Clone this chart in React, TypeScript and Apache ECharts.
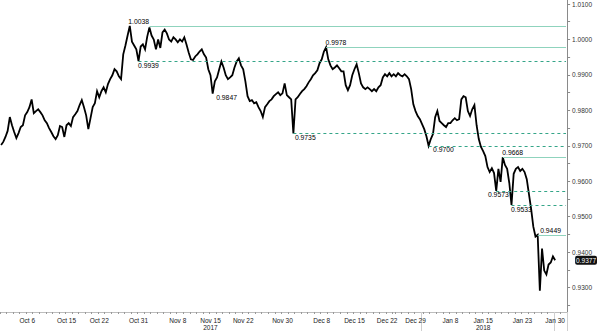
import React, { useEffect, useRef } from "react";
import * as echarts from "echarts";

// Trading days shown on the axis (weekdays, Oct 2017 - Jan 2018)
const octDays = [2, 3, 4, 5, 6, 9, 10, 11, 12, 13, 16, 17, 18, 19, 20, 23, 24, 25, 26, 27, 30, 31];
const novDays = [1, 2, 3, 6, 7, 8, 9, 10, 13, 14, 15, 16, 17, 20, 21, 22, 23, 24, 27, 28, 29, 30];
const decDays = [1, 4, 5, 6, 7, 8, 11, 12, 13, 14, 15, 18, 19, 20, 21, 22, 25, 26, 27, 28, 29];
const janDays = [1, 2, 3, 4, 5, 8, 9, 10, 11, 12, 15, 16, 17, 18, 19, 22, 23, 24, 25, 26, 29, 30, 31];
const holidays = ["Dec 25", "Jan 1"];
const slotsPerDay = 3;
const holidaySlots = 1;

// X tick labels (Bloomberg labels the Monday session by its Sunday open)
const tickDays = ["Oct 6", "Oct 16", "Oct 23", "Oct 31", "Nov 8", "Nov 15", "Nov 22", "Nov 30", "Dec 8", "Dec 15", "Dec 22", "Dec 29", "Jan 8", "Jan 15", "Jan 23", "Jan 30"];
const tickLabels = ["Oct 6", "Oct 15", "Oct 22", "Oct 31", "Nov 8", "Nov 15", "Nov 22", "Nov 30", "Dec 8", "Dec 15", "Dec 22", "Dec 29", "Jan 8", "Jan 15", "Jan 23", "Jan 30"];
const yearDays = ["Nov 15", "Jan 15"];
const yearLabels = ["2017", "2018"];
const separatorDays = ["Jan 1", "Jan 30"];

// Y axis
const yLabelValues = [0.93, 0.94, 0.95, 0.96, 0.97, 0.98, 0.99, 1.0, 1.01];
const yTickValues = [0.925, 0.93, 0.935, 0.94, 0.945, 0.95, 0.955, 0.96, 0.965, 0.97, 0.975, 0.98, 0.985, 0.99, 0.995, 1.0, 1.005, 1.01];
const Y_MIN = 0.92312;
const Y_MAX = 1.01113;

// Price series (one value per slot, ~8h each)
const prices = [
  0.9702, 0.9711, 0.9725, 0.9742, 0.9781, 0.9758, 0.9739, 0.9722, 0.9736, 0.9753,
  0.9758, 0.9786, 0.9795, 0.9809, 0.9831, 0.9792, 0.9798, 0.9803, 0.9795, 0.9786,
  0.9772, 0.9764, 0.975, 0.9739, 0.9727, 0.9719, 0.973, 0.9756, 0.9753, 0.9725,
  0.9758, 0.9764, 0.9756,
  0.9781, 0.9789, 0.9798, 0.9815, 0.9829, 0.9809, 0.9786,
  0.9747, 0.9778, 0.9809, 0.982, 0.9854, 0.9837, 0.9854, 0.9865, 0.9851, 0.9874,
  0.9888, 0.9899, 0.9916, 0.991, 0.9896, 0.9888, 0.9958, 0.9983, 1.0011, 1.0038,
  0.9994, 0.9983, 0.9972, 0.9939, 0.998, 0.9986, 0.9972, 1.0008, 1.0034, 1.0011,
  1.0, 0.9972, 1.0, 0.9976, 1.002, 1.0028, 1.0017, 1.0, 0.9994, 1.0006,
  1.0, 0.9992, 1.0, 0.9994, 1.0006, 0.9986, 0.9963, 0.9944, 0.9942, 0.9952,
  0.9958, 0.9966, 0.9972, 0.9958, 0.9949, 0.9916, 0.9899,
  0.9847, 0.9882, 0.9893, 0.9916, 0.9938, 0.9921, 0.9899, 0.9888, 0.9893, 0.9899, 0.9921, 0.9938,
  0.9947, 0.9927, 0.9916, 0.9882, 0.984, 0.9826, 0.9829, 0.982, 0.9823, 0.9809,
  0.9798, 0.9781, 0.9809, 0.9817, 0.9826, 0.9831, 0.984, 0.9846, 0.9851, 0.9843,
  0.9848, 0.9876, 0.9843, 0.9837, 0.9831, 0.9735, 0.9831, 0.9837, 0.9846, 0.9854,
  0.986, 0.9868, 0.9879, 0.9888, 0.9899, 0.9905, 0.9913, 0.9933, 0.9944, 0.9966,
  0.9978, 0.9944, 0.9927, 0.9916, 0.9921, 0.9927, 0.9919, 0.991, 0.991, 0.9871, 0.9857, 0.9871,
  0.9899, 0.9916, 0.993, 0.9905, 0.9876, 0.9865, 0.986,
  0.9865, 0.986, 0.9854, 0.986, 0.9854, 0.9865, 0.9871, 0.9893, 0.9902, 0.9896,
  0.9905, 0.9896, 0.9902, 0.9896, 0.9905, 0.9899, 0.9896, 0.9902, 0.9896, 0.9888,
  0.986, 0.9817, 0.9798, 0.9784, 0.9775, 0.9761, 0.9747, 0.9727, 0.97, 0.9719,
  0.9733, 0.9781, 0.9798, 0.977, 0.9764, 0.9758, 0.9753, 0.9764, 0.9764, 0.9772,
  0.9778, 0.9772, 0.9775, 0.9831, 0.984, 0.9837, 0.9798, 0.9784, 0.9803, 0.9815,
  0.9758, 0.9719, 0.9697, 0.9685, 0.9671, 0.964, 0.9626, 0.9637,
  0.9623, 0.9573, 0.9635, 0.9598, 0.9668, 0.9646, 0.9635, 0.9595, 0.9533, 0.9621, 0.9635,
  0.964, 0.9629, 0.9635, 0.9626, 0.9606, 0.9564, 0.9522, 0.9472, 0.9444, 0.9449,
  0.9291, 0.941, 0.9348, 0.9337, 0.9365, 0.9371, 0.9388, 0.9377,
];

// Annotated highs / lows
const levelValues = [1.0038, 0.9939, 0.9847, 0.9978, 0.9735, 0.97, 0.9668, 0.9573, 0.9533, 0.9449];
const levelKinds = ["high", "low", "low", "high", "low", "low", "high", "low", "low", "high"];
const levelLines = ["solid", "dashed", "none", "solid", "dashed", "dashed", "solid", "dashed", "dashed", "solid"];

export default function App() {
  const ref = useRef<HTMLDivElement>(null);

  useEffect(() => {
    if (!ref.current) return;
    const chart = echarts.init(ref.current, null, { renderer: "svg" });

    const months: [string, number[]][] = [["Oct", octDays], ["Nov", novDays], ["Dec", decDays], ["Jan", janDays]];
    const days: string[] = [];
    months.forEach(([m, ds]) => ds.forEach((d) => days.push(`${m} ${d}`)));
    const categories: string[] = [];
    days.forEach((day) => {
      const n = holidays.includes(day) ? holidaySlots : slotsPerDay;
      for (let s = 0; s < n; s++) categories.push(`${day}#${s}`);
    });
    const dayOf = (v: string) => v.split("#")[0];
    const isDayStart = (v: string) => v.endsWith("#0");

    const font = "Liberation Sans, Arial, sans-serif";
    const solidColor = "#8fd3bd";
    const dashedColor = "#34a588";
    const lastIdx = categories.length - 1;

    // the 1.0038 line is drawn from the retest a few sessions later
    const lineFromOverride: Record<number, number> = { 0: 68 };
    const labelShift: Record<number, [number, string]> = {
      0: [-1, "left"], 1: [0, "left"], 2: [4, "left"], 3: [0, "left"], 4: [2, "left"],
      5: [5, "left"], 6: [0, "left"], 7: [13, "right"], 8: [0, "left"], 9: [3, "left"],
    };

    const markLineData: any[] = [];
    const markPointData: any[] = [];
    levelValues.forEach((v, i) => {
      const at = prices.indexOf(v);
      const high = levelKinds[i] === "high";
      const [dx, align] = labelShift[i];
      markPointData.push({
        coord: [categories[at], v],
        value: v,
        label: {
          show: true,
          formatter: v.toFixed(4),
          position: [dx, high ? -0.5 : 1],
          align,
          verticalAlign: high ? "bottom" : "top",
          fontSize: 6.8,
          fontFamily: font,
          color: "#000",
        },
      });
      if (levelLines[i] !== "none") {
        const from = lineFromOverride[i] ?? at;
        markLineData.push([
          {
            coord: [categories[from], v],
            lineStyle: {
              color: levelLines[i] === "solid" ? solidColor : dashedColor,
              type: levelLines[i] === "solid" ? "solid" : [3, 3],
              width: 1,
            },
          },
          { coord: [categories[lastIdx], v] },
        ]);
      }
    });

    const lastValue = prices[prices.length - 1];

    chart.setOption({
      animation: false,
      backgroundColor: "#fff",
      grid: { left: 0, right: 22, top: 0, bottom: 19, containLabel: false },
      xAxis: [
        {
          type: "category",
          data: categories,
          boundaryGap: true,
          axisLine: { show: true, lineStyle: { color: "#bdbdbd", width: 1 } },
          axisTick: {
            show: true,
            interval: (_i: number, v: string) => isDayStart(v),
            length: 2,
            lineStyle: { color: "#999" },
          },
          axisLabel: {
            interval: (_i: number, v: string) => isDayStart(v) && tickDays.includes(dayOf(v)),
            formatter: (v: string) => {
              const day = dayOf(v);
              const t = tickLabels[tickDays.indexOf(day)];
              const y = yearDays.indexOf(day);
              return y >= 0 ? `${t}\n${yearLabels[y]}` : t;
            },
            fontSize: 6.5,
            lineHeight: 7,
            fontFamily: font,
            color: "#222",
            margin: 5,
          },
          splitLine: { show: false },
        },
        {
          type: "category",
          data: categories,
          position: "bottom",
          boundaryGap: true,
          axisLine: { show: false },
          axisLabel: { show: false },
          axisTick: {
            show: true,
            interval: (_i: number, v: string) => isDayStart(v) && separatorDays.includes(dayOf(v)),
            length: 19,
            lineStyle: { color: "#cfcfcf" },
          },
          splitLine: { show: false },
        },
      ],
      yAxis: [
        {
          type: "value",
          position: "right",
          min: Y_MIN,
          max: Y_MAX,
          axisLine: { show: true, lineStyle: { color: "#8a8a8a", width: 1 } },
          axisTick: { show: true, customValues: yTickValues, length: 3, lineStyle: { color: "#8a8a8a" } },
          axisLabel: {
            customValues: yLabelValues,
            formatter: (v: number) => v.toFixed(4),
            fontSize: 6.5,
            fontFamily: font,
            color: "#333",
            margin: 5,
          },
          splitLine: { show: false },
        },
        {
          type: "value",
          position: "right",
          min: Y_MIN,
          max: Y_MAX,
          axisLine: { show: false },
          axisTick: { show: false },
          axisLabel: {
            customValues: [lastValue],
            formatter: (v: number) => v.toFixed(4),
            fontSize: 6.5,
            fontFamily: font,
            color: "#fff",
            backgroundColor: "#111",
            borderRadius: 2,
            padding: [1, 1, 1, 1],
            margin: 8,
          },
          splitLine: { show: false },
        },
      ],
      series: [
        {
          type: "line",
          data: prices,
          xAxisIndex: 0,
          yAxisIndex: 0,
          symbol: "none",
          showSymbol: false,
          silent: true,
          lineStyle: { color: "#000", width: 1.8, join: "miter" },
          markLine: {
            silent: true,
            symbol: ["none", "none"],
            label: { show: false },
            data: markLineData,
          },
          markPoint: {
            silent: true,
            symbol: "circle",
            symbolSize: 1,
            itemStyle: { color: "rgba(0,0,0,0)" },
            data: markPointData,
          },
        },
      ],
    });

    return () => chart.dispose();
  }, []);

  return (
    <div
      ref={ref}
      style={{ position: "fixed", left: 0, top: 0, width: 600, height: 331, background: "#fff" }}
    />
  );
}
